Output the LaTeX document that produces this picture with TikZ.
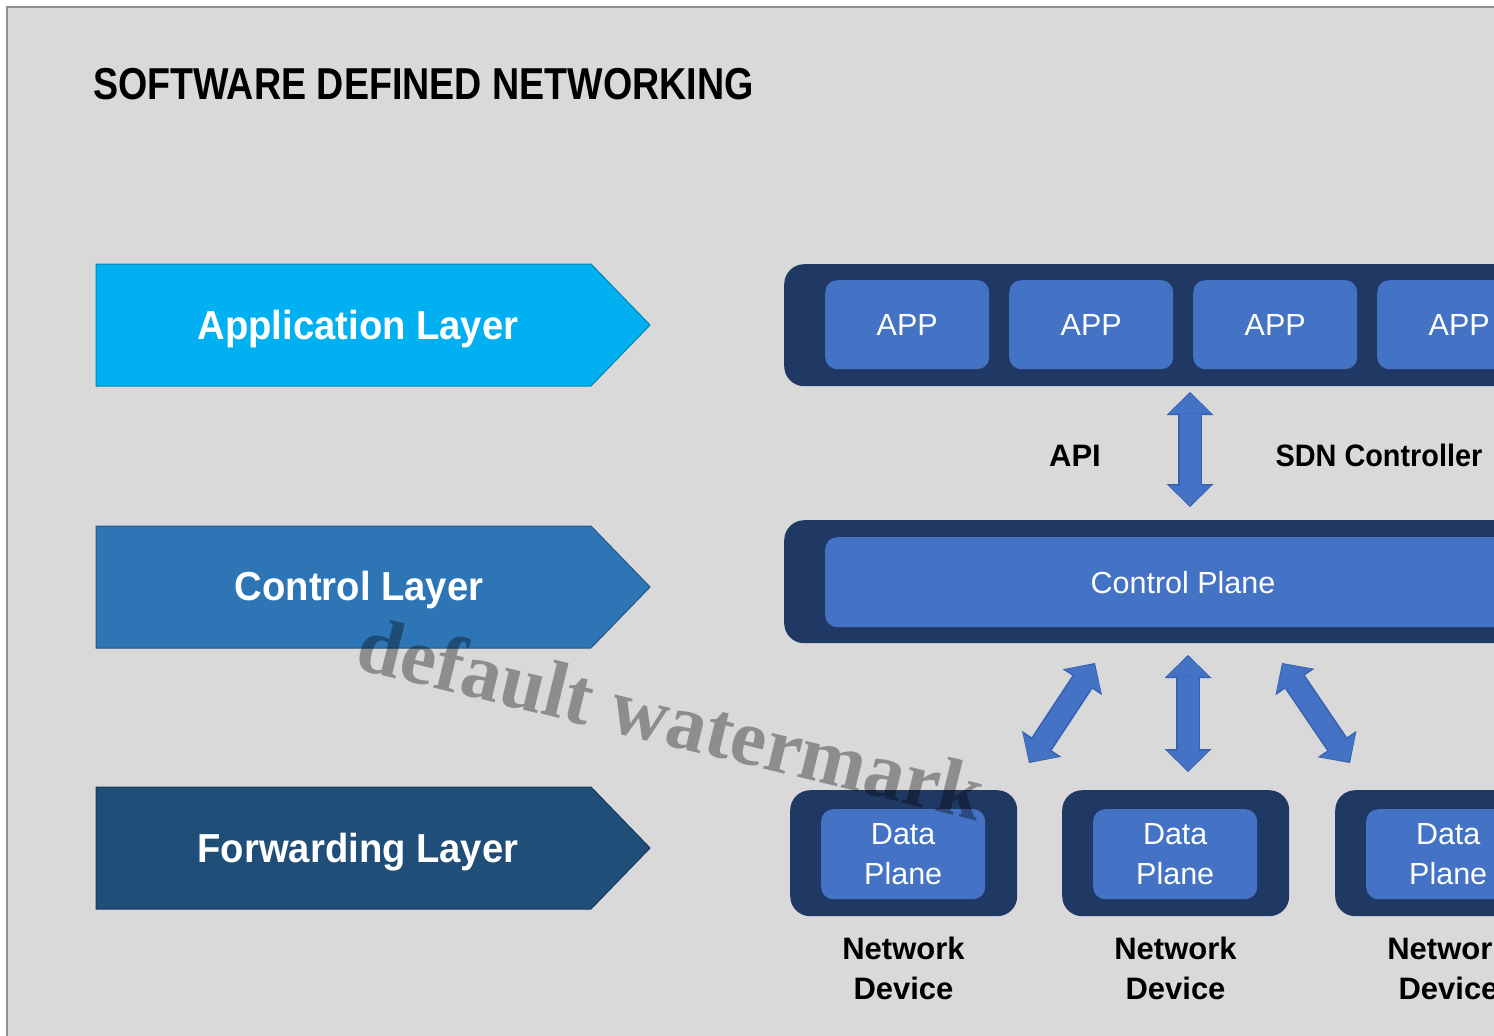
\documentclass[tikz,border=0pt]{standalone}
\usepackage{fontspec}
\setmainfont{Liberation Sans}
\newfontfamily\wmfont{Liberation Serif}
\usetikzlibrary{arrows.meta}
\definecolor{bg}{HTML}{D9D9D9}
\definecolor{applc}{HTML}{00B0F0}
\definecolor{ctrlc}{HTML}{2E75B6}
\definecolor{fwdc}{HTML}{1F4E79}
\definecolor{navy}{HTML}{203864}
\definecolor{boxc}{HTML}{4472C4}
\definecolor{arrowedge}{HTML}{3561AE}
\definecolor{edgegray}{HTML}{8E8E8E}
\newcommand\blockarrow[2]{%
  \draw[line width=24pt, arrowedge,
    {Triangle[width=47pt,length=23pt,line width=0pt]}-{Triangle[width=47pt,length=23pt,line width=0pt]}] (#1) -- (#2);
  \draw[line width=21pt, boxc, shorten <=1.5pt, shorten >=1.5pt,
    {Triangle[width=43pt,length=20pt,line width=0pt]}-{Triangle[width=43pt,length=20pt,line width=0pt]}] (#1) -- (#2);}
\begin{document}
\begin{tikzpicture}[x=1pt,y=-1pt,
  lay/.style={draw=#1!75!black, line width=1pt, fill=#1},
  laytext/.style={text=white, font=\bfseries\fontsize{40.5}{48}\selectfont, anchor=base, inner sep=0pt},
  cont/.style={fill=navy, rounded corners=20pt, anchor=north west, inner sep=0pt},
  ibox/.style={fill=boxc, rounded corners=12pt, anchor=north west, inner sep=0pt, text=white,
    font=\fontsize{30.5}{40}\selectfont},
  blk/.style={text=black, font=\bfseries\fontsize{31}{40}\selectfont, inner sep=0pt}]
\fill[white] (0,0) rectangle (1494,1036);
\useasboundingbox (0,0) rectangle (1494,1036);
\fill[bg] (7,7) rectangle (1520,1060);
\draw[edgegray, line width=2pt] (7,1060) -- (7,7) -- (1520,7);

% title
\node[anchor=base, inner sep=0pt, font=\bfseries\fontsize{44.7}{50}\selectfont] (title) at (423.5,99)
  {\scalebox{0.842}[1]{SOFTWARE DEFINED NETWORKING}};

% layer arrows
\fill[lay=applc] (96,264) -- (591,264) -- (650,325) -- (591,386) -- (96,386) -- cycle;
\node[laytext] (applT) at (358,339) {\scalebox{0.944}[1]{Application Layer}};
\fill[lay=ctrlc] (96,526) -- (591,526) -- (650,587) -- (591,648) -- (96,648) -- cycle;
\node[laytext] (ctrlT) at (359,600) {\scalebox{0.944}[1]{Control Layer}};
\fill[lay=fwdc] (96,787) -- (591,787) -- (650,848) -- (591,909) -- (96,909) -- cycle;
\node[laytext] (fwdT) at (358,862) {\scalebox{0.944}[1]{Forwarding Layer}};

% application container
\node[cont, minimum width=760pt, minimum height=122pt] (appc) at (784,264) {};
\foreach \i/\x in {1/825,2/1009,3/1193,4/1377}{
  \node[ibox, minimum width=164pt, minimum height=89pt] (app\i) at (\x,280) {APP};
}

% API arrow and labels
\coordinate (apiTop) at (1190,392);
\coordinate (apiBot) at (1190,507);
\blockarrow{apiTop}{apiBot}
\node[blk, anchor=base] (api) at (1075,466) {API};
\node[blk, anchor=base] (sdn) at (1379,466) {\scalebox{0.93}[1]{SDN Controller}};

% control container
\node[cont, minimum width=760pt, minimum height=123pt] (ctrlc) at (784,520) {};
\node[ibox, minimum width=720pt, minimum height=90pt] (cplane) at (825,537) {};
\node[anchor=base, inner sep=0pt, text=white, font=\fontsize{30.5}{40}\selectfont] (cplT) at (1183,593) {Control Plane};

% lower arrows
\coordinate (l1a) at (1095,663); \coordinate (l1b) at (1029,763);
\coordinate (l2a) at (1188,655); \coordinate (l2b) at (1188,772);
\coordinate (l3a) at (1282,663); \coordinate (l3b) at (1350,763);
\blockarrow{l1a}{l1b}
\blockarrow{l2a}{l2b}
\blockarrow{l3a}{l3b}

% network devices
\foreach \i/\x in {1/790,2/1062,3/1335}{
  \node[cont, minimum width=227pt, minimum height=126pt] (dev\i) at (\x,790) {};
  \node[ibox, minimum width=164pt, minimum height=90pt, align=center] (dp\i) at (\x+31,809) {Data\\Plane};
  \node[blk, align=center, anchor=north] (nd\i) at (\x+113.5,937) {Network\\Device};
}

% watermark
\node[rotate=-13.8, text=black, opacity=0.35, font=\wmfont\bfseries\fontsize{80}{80}\selectfont] (wm) at (672,718) {default watermark};
\end{tikzpicture}
\end{document}
